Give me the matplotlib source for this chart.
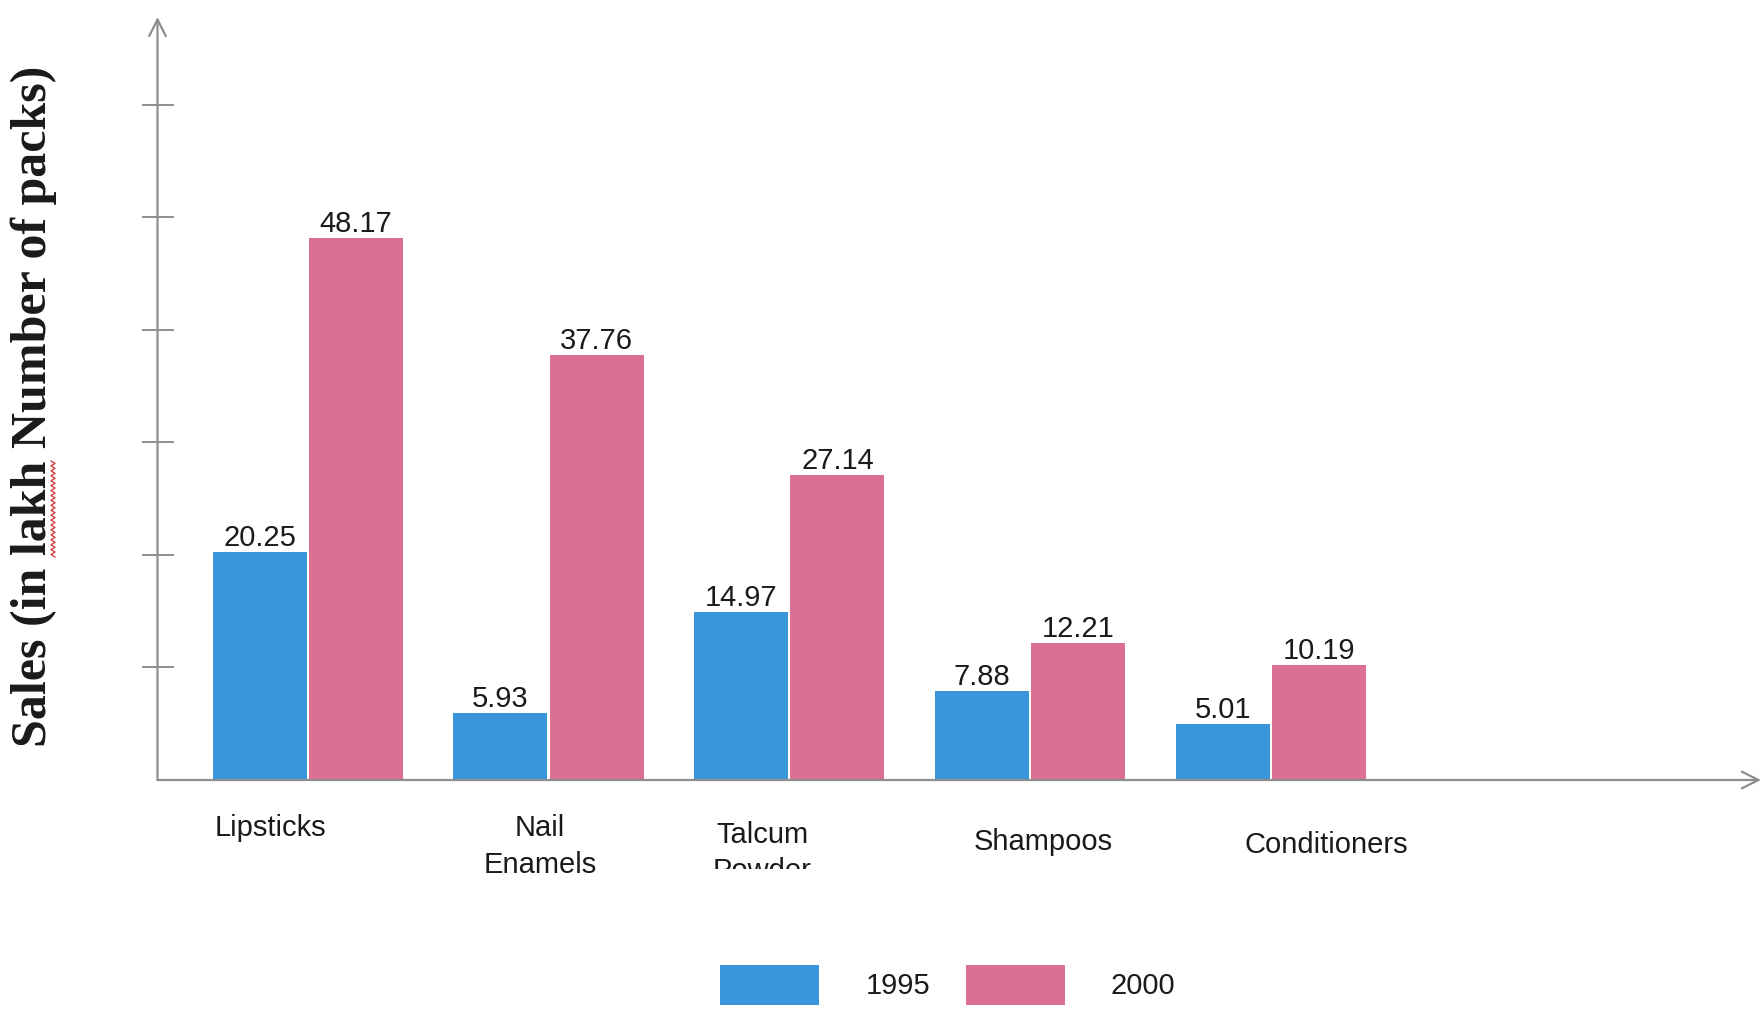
import matplotlib
matplotlib.use("Agg")
import matplotlib.pyplot as plt
import matplotlib.transforms as mtransforms
from matplotlib.patches import Patch
from matplotlib.lines import Line2D
import numpy as np

categories = ["Lipsticks", "Nail\nEnamels", "Talcum\nPowder", "Shampoos", "Conditioners"]
sales_1995 = [20.25, 5.93, 14.97, 7.88, 5.01]
sales_2000 = [48.17, 37.76, 27.14, 12.21, 10.19]
years = ["1995", "2000"]
yticks = [10, 20, 30, 40, 50, 60]

BLUE = "#3A96DA"
PINK = "#DC7093"
GRAY = "#8E8E8E"
TXT = "#1a1a1a"

plt.rcParams['font.family'] = ['Liberation Sans', 'DejaVu Sans']

W, H = 1764, 1009
fig = plt.figure(figsize=(W / 100, H / 100), dpi=100)
ax = fig.add_axes([157.5 / W, 1 - 780 / H, (1761 - 157.5) / W, (780 - 17) / H])

x = np.arange(len(categories))
bw = 0.39
off = 0.2
b1 = ax.bar(x - off, sales_1995, bw, color=BLUE, label=years[0], zorder=2)
b2 = ax.bar(x + off, sales_2000, bw, color=PINK, label=years[1], zorder=2)

ax.bar_label(b1, labels=[f"{v:.2f}" for v in sales_1995], padding=0, fontsize=21, color=TXT)
ax.bar_label(b2, labels=[f"{v:.2f}" for v in sales_2000], padding=0, fontsize=21, color=TXT)

ax.set_xlim(-0.624, 6.036)
ax.set_ylim(0, 67.8)

for s in ax.spines.values():
    s.set_visible(False)

# axes with arrow heads
ax.annotate('', xy=(1, 0), xytext=(0, 0), xycoords='axes fraction',
            arrowprops=dict(arrowstyle='->', color=GRAY, lw=1.6,
                            mutation_scale=30, shrinkA=0, shrinkB=0))
ax.annotate('', xy=(0, 1), xytext=(0, 0), xycoords='axes fraction',
            arrowprops=dict(arrowstyle='->', color=GRAY, lw=1.6,
                            mutation_scale=30, shrinkA=0, shrinkB=0))

ax.set_yticks(yticks)
ax.set_yticklabels([])
ax.tick_params(axis='y', direction='inout', length=23, width=1.4, color=GRAY)
ax.set_xticks([])

# category labels (irregular placement as in the reference)
label_dx = [-0.157, -0.035, -0.113, 0.054, 0.23]
label_dy_px = [48, 66.5, 73, 61.5, 65]
clip = mtransforms.Bbox([[0, H - 869], [W, H]])
for i, (cat, dx, dy) in enumerate(zip(categories, label_dx, label_dy_px)):
    tr = mtransforms.blended_transform_factory(ax.transData, ax.transAxes) + \
        mtransforms.ScaledTranslation(0, -dy / 100, fig.dpi_scale_trans)
    t = ax.text(i + dx, 0, cat, transform=tr, ha='center', va='center',
                fontsize=21, color=TXT, linespacing=1.4, multialignment='center')
    if cat.startswith("Talcum"):
        # the reference cuts the second line of this label off
        t.set_clip_on(True)
        t.set_clip_box(clip)
    else:
        t.set_clip_on(False)

# y label
fig.text(34 / W, 1 - 406 / H, "Sales (in lakh Number of packs)", rotation=90,
         ha='center', va='center', fontsize=36, fontweight='bold',
         family=['Liberation Serif', 'DejaVu Serif'], color=TXT)

# spell-check squiggle under "lakh"
ys = np.linspace(1 - 461 / H, 1 - 557 / H, 40)
xs = np.where(np.arange(40) % 2 == 0, 51 / W, 55 / W)
fig.add_artist(Line2D(xs, ys, color="#d03030", lw=0.9, transform=fig.transFigure))

# legend
fs_px = 21 / 72 * 100
handles = [Patch(facecolor=BLUE), Patch(facecolor=PINK)]
fig.legend(handles, years, ncol=2, loc='center', bbox_to_anchor=(948 / W, 1 - 985 / H),
           frameon=False, fontsize=21, handlelength=99 / fs_px, handleheight=1.78,
           handletextpad=46 / fs_px, columnspacing=36 / fs_px, borderpad=0, borderaxespad=0,
           labelcolor=TXT)

fig.savefig("out.png", dpi=100)
